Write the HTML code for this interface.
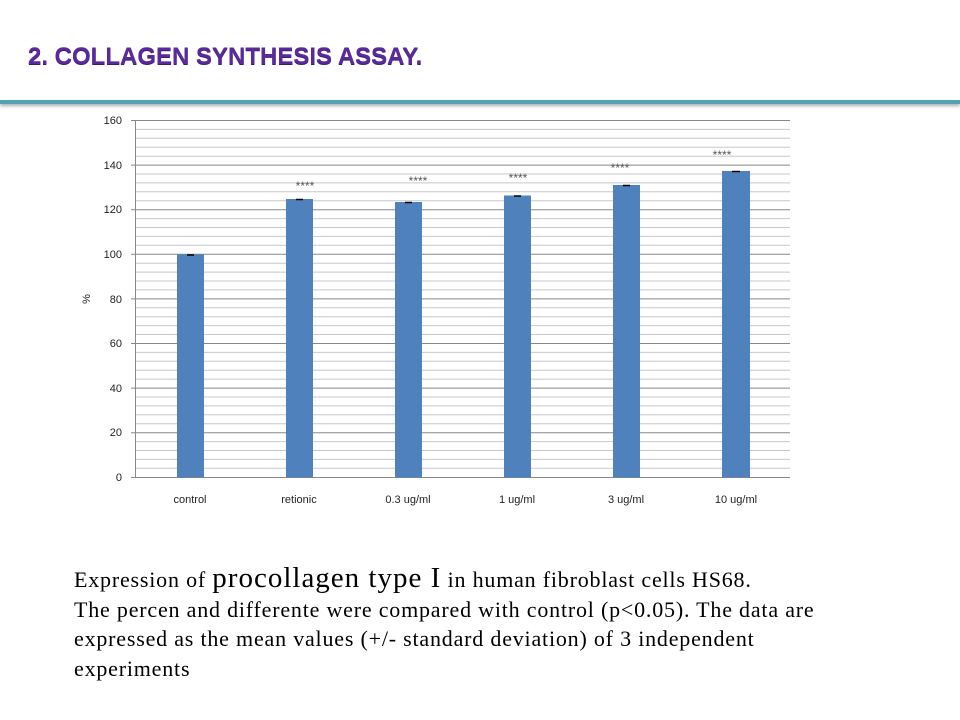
<!DOCTYPE html>
<html><head><meta charset="utf-8"><style>
body{margin:0;width:960px;height:720px;background:#fff;position:relative;overflow:hidden;font-family:"Liberation Sans",sans-serif}
.title{position:absolute;left:28px;top:43px;font-size:24px;font-weight:900;color:#5a2a9a;text-shadow:0 1px 0 #3e1a78}
.bar{position:absolute;left:0;top:100px;width:960px;height:4px;background:#4fa3b3;box-shadow:0 2px 3px #aaa}
.txt{position:absolute;left:74px;top:565px;font-family:"Liberation Serif",serif;font-size:22px;letter-spacing:0.8px;line-height:29.5px;color:#000;white-space:nowrap}
.big{font-size:29px;letter-spacing:1px;line-height:20px}
</style></head><body>
<div class="title">2. COLLAGEN SYNTHESIS ASSAY.</div>
<div class="bar"></div>
<svg width="960" height="720" style="position:absolute;left:0;top:0" font-family="Liberation Sans, sans-serif">
<g stroke="#c8c8c8" stroke-width="1">
<line x1="135" x2="790" y1="129.4" y2="129.4"/><line x1="135" x2="790" y1="138.3" y2="138.3"/><line x1="135" x2="790" y1="147.2" y2="147.2"/><line x1="135" x2="790" y1="156.2" y2="156.2"/>
<line x1="135" x2="790" y1="174.0" y2="174.0"/><line x1="135" x2="790" y1="182.9" y2="182.9"/><line x1="135" x2="790" y1="191.8" y2="191.8"/><line x1="135" x2="790" y1="200.7" y2="200.7"/>
<line x1="135" x2="790" y1="218.6" y2="218.6"/><line x1="135" x2="790" y1="227.5" y2="227.5"/><line x1="135" x2="790" y1="236.4" y2="236.4"/><line x1="135" x2="790" y1="245.3" y2="245.3"/>
<line x1="135" x2="790" y1="263.2" y2="263.2"/><line x1="135" x2="790" y1="272.1" y2="272.1"/><line x1="135" x2="790" y1="281.0" y2="281.0"/><line x1="135" x2="790" y1="289.9" y2="289.9"/>
<line x1="135" x2="790" y1="307.8" y2="307.8"/><line x1="135" x2="790" y1="316.7" y2="316.7"/><line x1="135" x2="790" y1="325.6" y2="325.6"/><line x1="135" x2="790" y1="334.5" y2="334.5"/>
<line x1="135" x2="790" y1="352.4" y2="352.4"/><line x1="135" x2="790" y1="361.3" y2="361.3"/><line x1="135" x2="790" y1="370.2" y2="370.2"/><line x1="135" x2="790" y1="379.1" y2="379.1"/>
<line x1="135" x2="790" y1="397.0" y2="397.0"/><line x1="135" x2="790" y1="405.9" y2="405.9"/><line x1="135" x2="790" y1="414.8" y2="414.8"/><line x1="135" x2="790" y1="423.7" y2="423.7"/>
<line x1="135" x2="790" y1="441.6" y2="441.6"/><line x1="135" x2="790" y1="450.5" y2="450.5"/><line x1="135" x2="790" y1="459.4" y2="459.4"/><line x1="135" x2="790" y1="468.3" y2="468.3"/>
</g>
<g stroke="#888" stroke-width="1">
<line x1="131" x2="790" y1="120.5" y2="120.5"/><line x1="131" x2="790" y1="165.1" y2="165.1"/><line x1="131" x2="790" y1="209.7" y2="209.7"/><line x1="131" x2="790" y1="254.3" y2="254.3"/>
<line x1="131" x2="790" y1="298.9" y2="298.9"/><line x1="131" x2="790" y1="343.5" y2="343.5"/><line x1="131" x2="790" y1="388.1" y2="388.1"/><line x1="131" x2="790" y1="432.7" y2="432.7"/>
<line x1="131" x2="790" y1="477.5" y2="477.5"/><line x1="135.5" x2="135.5" y1="120" y2="477"/>
</g>
<g fill="#4f81bd">
<rect x="177" y="254.5" width="27" height="223"/>
<rect x="286" y="199" width="27" height="278.5"/>
<rect x="395" y="202" width="27" height="275.5"/>
<rect x="504" y="195.5" width="27" height="282"/>
<rect x="613" y="185" width="27" height="292.5"/>
<rect x="722" y="171" width="28" height="306.5"/>
</g>
<g stroke="#000" stroke-width="1.5">
<line x1="187" x2="194" y1="255" y2="255"/><line x1="296" x2="303" y1="199.5" y2="199.5"/><line x1="405" x2="412" y1="202.5" y2="202.5"/><line x1="514" x2="521" y1="196" y2="196"/><line x1="623" x2="630" y1="185.5" y2="185.5"/><line x1="732" x2="740" y1="171.5" y2="171.5"/>
</g>
<g font-size="12" fill="#555" text-anchor="middle">
<text x="305" y="190">****</text><text x="418" y="185">****</text><text x="518" y="182">****</text><text x="620" y="172">****</text><text x="722" y="159">****</text>
</g>
<g font-size="11" fill="#222" text-anchor="end">
<text x="122" y="124">160</text><text x="122" y="169">140</text><text x="122" y="213">120</text><text x="122" y="258">100</text><text x="122" y="303">80</text><text x="122" y="347">60</text><text x="122" y="392">40</text><text x="122" y="436">20</text><text x="122" y="481">0</text>
</g>
<text x="90" y="299" font-size="11" fill="#222" text-anchor="middle" transform="rotate(-90 90 299)">%</text>
<g font-size="11" fill="#222" text-anchor="middle">
<text x="190" y="503">control</text><text x="299" y="503">retionic</text><text x="408" y="503">0.3 ug/ml</text><text x="517" y="503">1 ug/ml</text><text x="626" y="503">3 ug/ml</text><text x="736" y="503">10 ug/ml</text>
</g>
</svg>
<div class="txt">Expression of <span class="big">procollagen type I</span> in human fibroblast cells HS68.<br>The percen and differente were compared with control (p&lt;0.05). The data are<br>expressed as the mean values (+/- standard deviation) of 3 independent<br>experiments</div>
</body></html>
